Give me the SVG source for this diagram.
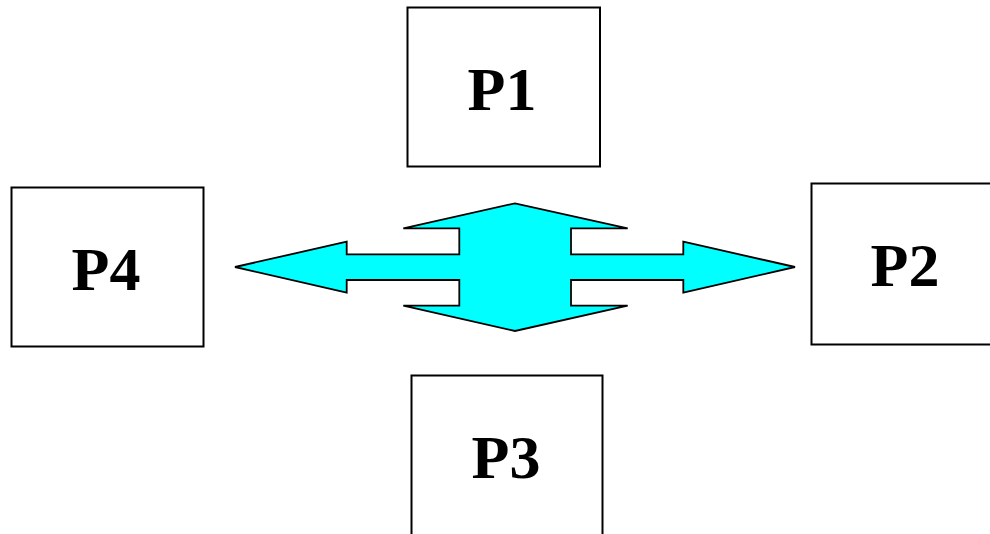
<svg xmlns="http://www.w3.org/2000/svg" width="990" height="534" viewBox="0 0 990 534">
<style>
.box{fill:#fff;stroke:#000;stroke-width:2}
.lbl{font-family:'Liberation Serif',Tinos,'Times New Roman',Times,serif;font-weight:700;font-size:62px;text-anchor:middle;fill:#000}
.arrow{fill:#00ffff;stroke:#000;stroke-width:1.8;stroke-linejoin:miter}
</style>
<rect width="990" height="534" fill="#fff"/>
<g id="P1"><rect class="box" x="407.5" y="7.5" width="192.5" height="159"/><text class="lbl" x="502" y="110">P1</text></g>
<g id="P2"><rect class="box" x="811.5" y="183.5" width="185" height="161"/><text class="lbl" x="905" y="286">P2</text></g>
<g id="P3"><rect class="box" x="411.5" y="375.5" width="191" height="170"/><text class="lbl" x="506" y="478">P3</text></g>
<g id="P4"><rect class="box" x="11.5" y="187.5" width="192" height="159"/><text class="lbl" x="106" y="290">P4</text></g>
<g id="connectors">
<path class="arrow" d="M403.3,228.3 L515,203.3 L627.7,228.3 L571,228.3 L571,254.3 L683.3,254.3 L683.3,241.7 L795,267 L683.3,292.7 L683.3,280 L571,280 L571,305.7 L627.7,305.7 L515,331 L403.3,305.7 L459.3,305.7 L459.3,280 L346.7,280 L346.7,292.7 L235,267 L346.7,241.7 L346.7,254.3 L459.3,254.3 L459.3,228.3 Z"/>
</g>
</svg>
